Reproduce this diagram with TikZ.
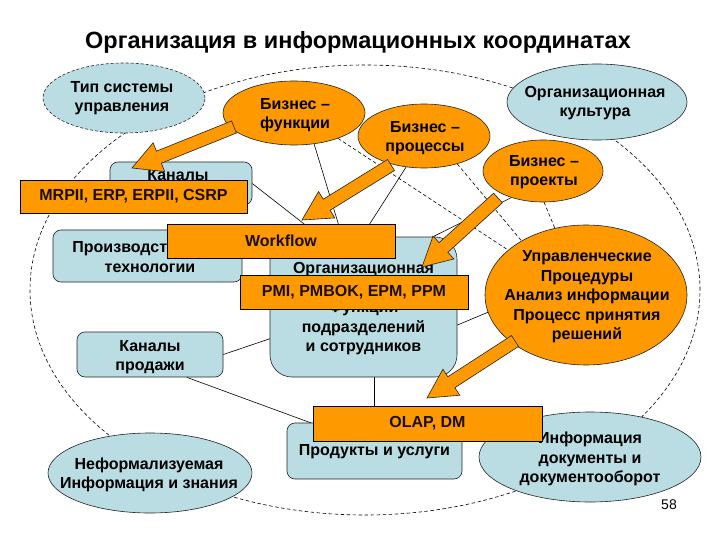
\documentclass[tikz,border=0pt]{standalone}
\usepackage{fontspec}
\setmainfont{Liberation Sans}
\usetikzlibrary{shapes.geometric,calc}
\definecolor{orng}{RGB}{255,153,0}
\definecolor{lblue}{RGB}{185,221,227}
\definecolor{edgec}{RGB}{35,35,35}
\pgfdeclarelayer{back}
\pgfdeclarelayer{bg}
\pgfsetlayers{back,bg,main}
\newcommand{\bodyfont}{\bfseries\fontsize{16}{19.5}\selectfont}
\newcommand{\blockarrow}[3]{%
  \coordinate (#3-c) at ($(#2)!29pt!(#1)$);
  \path[barrow] ($(#1)!6.5pt!90:(#2)$) -- ($(#3-c)!6.5pt!90:(#2)$) -- ($(#3-c)!15.5pt!90:(#2)$) -- (#2) -- ($(#3-c)!15.5pt!-90:(#2)$) -- ($(#3-c)!6.5pt!-90:(#2)$) -- ($(#1)!6.5pt!-90:(#2)$) -- cycle;}
\begin{document}
\begin{tikzpicture}[x=1pt,y=-1pt,
  lbl/.style={align=center,font=\bodyfont,inner sep=0pt,text=black},
  ellbase/.style={ellipse,inner sep=0pt,line width=0.6pt,draw=edgec},
  bell/.style={ellbase,fill=lblue},
  oell/.style={ellbase,fill=orng},
  dashedge/.style={dash pattern=on 3pt off 2pt},
  bbox/.style={rectangle,rounded corners=8pt,draw=edgec,line width=0.6pt,fill=lblue,inner sep=0pt},
  obox/.style={rectangle,draw=black,line width=0.8pt,fill=orng,inner sep=0pt,font=\bodyfont,text=black!90!orng},
  conn/.style={line width=0.6pt,black},
  dconn/.style={line width=0.6pt,black,dash pattern=on 3.5pt off 2.5pt},
  barrow/.style={fill=orng,draw=edgec,line width=0.6pt,line join=miter}]
\begin{pgfonlayer}{back}
\useasboundingbox[fill=white] (0,0) rectangle (720,540);
\end{pgfonlayer}

\node[font=\bfseries\fontsize{23.5}{28}\selectfont,inner sep=0pt] (title) at (358,42) {Организация в информационных координатах};

% ellipses
\node[bell,dashedge,minimum width=162pt,minimum height=70pt] (tip) at (124,98) {};
\node[lbl] (tip-t) at (122,98) {Тип системы\\управления};
\node[oell,minimum width=142pt,minimum height=64pt] (bf) at (294,113) {};
\node[lbl] (bf-t) at (295,115) {Бизнес –\\функции};
\node[oell,minimum width=132pt,minimum height=64pt] (bp) at (424,136) {};
\node[lbl] (bp-t) at (425,138) {Бизнес –\\процессы};
\node[bell,minimum width=180pt,minimum height=76pt] (oc) at (597,102) {};
\node[lbl] (oc-t) at (595,103) {Организационная\\культура};
\node[oell,minimum width=120pt,minimum height=62pt] (bpr) at (543,171) {};
\node[lbl] (bpr-t) at (544,172) {Бизнес –\\проекты};
\node[oell,minimum width=202pt,minimum height=140pt] (upr) at (586,295) {};
\node[lbl] (upr-t) at (587,297) {Управленческие\\Процедуры\\Анализ информации\\Процесс принятия\\решений};
\node[bell,minimum width=222pt,minimum height=90pt] (inf) at (590,457) {};
\node[lbl] (inf-t) at (590,459) {Информация\\документы и\\документооборот};
\node[bell,minimum width=204pt,minimum height=80pt] (nef) at (150,473) {};
\node[lbl] (nef-t) at (149,475) {Неформализуемая\\Информация и знания};

% blue boxes
\node[bbox,minimum width=142pt,minimum height=43pt] (kan) at (181,183.5) {};
\node[lbl] (kan-t) at (178,175) {Каналы};
\node[bbox,minimum width=189pt,minimum height=52pt] (prt) at (147.5,256) {};
\node[lbl] (prt-t) at (150,257) {Производственные\\технологии};
\node[bbox,rounded corners=22pt,minimum width=187pt,minimum height=140pt] (org) at (363.5,307) {};
\node[lbl] (org-t) at (363.5,309) {Организационная\\[19.5pt]Функции\\подразделений\\и сотрудников};
\node[bbox,minimum width=146pt,minimum height=45pt] (kp) at (150,354.5) {};
\node[lbl] (kp-t) at (150,357) {Каналы\\продажи};
\node[bbox,minimum width=175pt,minimum height=56pt] (prod) at (374.5,451) {};
\node[lbl] (prod-t) at (374.5,452) {Продукты и услуги};

% orange boxes
\node[obox,minimum width=227pt,minimum height=33pt] (mrp) at (133.5,196.5) {MRPII, ERP, ERPII, CSRP};
\node[obox,minimum width=228pt,minimum height=34pt] (wf) at (281,241) {Workflow};
\node[obox,minimum width=228pt,minimum height=34pt] (pmi) at (354,292) {PMI, PMBOK, EPM, PPM};
\node[obox,minimum width=229pt,minimum height=35pt] (olap) at (427.5,423.5) {OLAP, DM};

% connectors behind
\begin{pgfonlayer}{bg}
\node[ellipse,draw=black,line width=0.6pt,dash pattern=on 3.5pt off 2.5pt,minimum width=670pt,minimum height=450pt,inner sep=0pt] (outer) at (365,290) {};
\draw[dconn] (bf.-30) -- (upr.150);
\draw[dconn] (bp.-40) -- (upr.140);
\draw[dconn] (bpr.-88) -- (upr.115);
\draw[conn] (bf.-57) -- (org.center);
\draw[conn] (bp.-120) -- ($(org.west)!0.25!(org.east)$);
\draw[conn] (bpr.-140) -- ($(org.west)!0.12!(org.east)$);
\draw[conn] (kan.east) -- ($(org.center)!0.5!(org.east)$);
\draw[conn] (kp.east) -- (org.center);
\draw[conn] ($(org.east)!0.257!(org.south east)$) -- (upr.190);
\draw[conn] (org.south -| prod.north) -- (prod.north);
\draw[conn] ($(kp.south)!0.5!(kp.south east)$) -- (olap.west);
\end{pgfonlayer}

% block arrows
\coordinate (a1s) at (234,127); \coordinate (a1e) at (132,168);
\coordinate (a2s) at (391,165); \coordinate (a2e) at (302,220);
\coordinate (a3s) at (498,198); \coordinate (a3e) at (422,267);
\coordinate (a4s) at (515,341); \coordinate (a4e) at (427,398);
\blockarrow{a1s}{a1e}{ba1}
\blockarrow{a2s}{a2e}{ba2}
\blockarrow{a3s}{a3e}{ba3}
\blockarrow{a4s}{a4e}{ba4}

\node[font=\fontsize{14}{16}\selectfont,inner sep=0pt] (pg) at (669,505) {58};
\end{tikzpicture}
\end{document}
